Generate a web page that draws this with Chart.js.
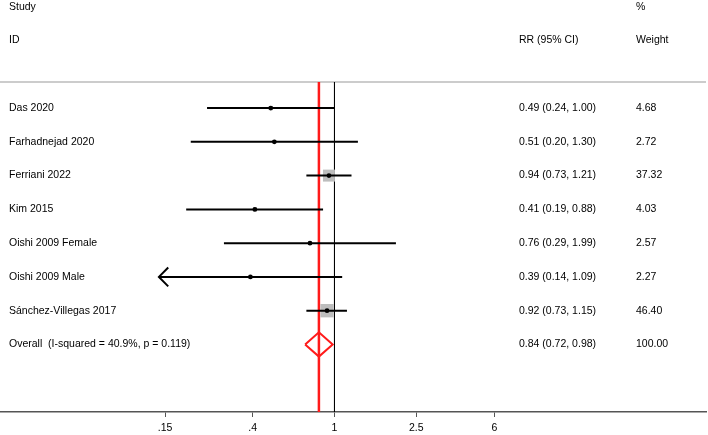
<!DOCTYPE html>
<html>
<head>
<meta charset="utf-8">
<script src="https://cdn.jsdelivr.net/npm/chart.js@4/dist/chart.umd.min.js"></script>
<style>
    body { margin: 0; background: #fff; }
</style>
</head>
<body>
<canvas id="forest" width="708" height="435"></canvas>
<script>
"use strict";

/**
 * Datos del forest plot
 */
const studies = [
    "Das 2020",
    "Farhadnejad 2020",
    "Ferriani 2022",
    "Kim 2015",
    "Oishi 2009 Female",
    "Oishi 2009 Male",
    "Sánchez-Villegas 2017",
];
const rr = [0.49, 0.51, 0.94, 0.41, 0.76, 0.39, 0.92];
const ciLow = [0.24, 0.2, 0.73, 0.19, 0.29, 0.14, 0.73];
const ciHigh = [1.0, 1.3, 1.21, 0.88, 1.99, 1.09, 1.15];
const weights = [4.68, 2.72, 37.32, 4.03, 2.57, 2.27, 46.4];

const overallLabel = "Overall  (I-squared = 40.9%, p = 0.119)";
const overallRR = 0.84;
const overallLow = 0.72;
const overallHigh = 0.98;
const overallWeight = 100.0;

const xTicks = [0.15, 0.4, 1, 2.5, 6];
const xTickLabels = [".15", ".4", "1", "2.5", "6"];

/**
 * Rango de los ejes
 */
const X_MIN = 0.02362;
const X_MAX = 64.1;
const Y_TOP = -3.2;
const Y_BOTTOM = 9.0;
const Y_RULE = -0.77;
const overallRow = studies.length;

const FONT = "Arial, 'Liberation Sans', sans-serif";
const RED = "#ff1a1a";

const canvas = document.querySelector("#forest");

/**
 * Lineas de intervalo de confianza
 */
const ciSets = studies.map((name, i) => ({
    label: name,
    data: [
        { x: ciLow[i], y: i },
        { x: ciHigh[i], y: i },
    ],
    showLine: true,
    borderColor: "#000",
    borderWidth: 2,
    pointRadius: 0,
    order: 2,
}));

// flecha para intervalos que salen del rango de las marcas
const arrowSets = [];
studies.forEach((name, i) => {
    if (ciLow[i] < xTicks[0]) {
        arrowSets.push({
            label: name + " arrow",
            data: [
                { x: ciLow[i] * 1.11, y: i - 0.28 },
                { x: ciLow[i], y: i },
                { x: ciLow[i] * 1.11, y: i + 0.28 },
            ],
            showLine: true,
            borderColor: "#000",
            borderWidth: 2,
            pointRadius: 0,
            order: 2,
        });
    }
});

const datasets = [
    {
        label: "RR",
        data: rr.map((v, i) => ({ x: v, y: i })),
        backgroundColor: "#000",
        borderWidth: 0,
        pointRadius: 2.4,
        order: 0,
    },
    ...ciSets,
    ...arrowSets,
    {
        label: "Weight",
        data: rr.map((v, i) => ({ x: v, y: i })),
        pointStyle: "rect",
        backgroundColor: "#bdbdbd",
        borderWidth: 0,
        pointRadius: (ctx) => (Math.sqrt(weights[ctx.dataIndex]) * 1.96) / Math.SQRT2,
        order: 3,
    },
    {
        label: "Overall",
        data: [
            { x: overallLow, y: overallRow },
            { x: overallRR, y: overallRow - 0.36 },
            { x: overallHigh, y: overallRow },
            { x: overallRR, y: overallRow + 0.36 },
            { x: overallLow, y: overallRow },
        ],
        showLine: true,
        borderColor: RED,
        borderWidth: 2,
        pointRadius: 0,
        order: 1,
    },
    {
        label: "Overall line",
        data: [
            { x: overallRR, y: Y_RULE },
            { x: overallRR, y: Y_BOTTOM },
        ],
        showLine: true,
        borderColor: RED,
        borderWidth: 2.5,
        pointRadius: 0,
        order: 4,
    },
    {
        label: "Null line",
        data: [
            { x: 1, y: Y_RULE },
            { x: 1, y: Y_BOTTOM },
        ],
        showLine: true,
        borderColor: "#000",
        borderWidth: 1,
        pointRadius: 0,
        order: 5,
    },
    {
        label: "Rule",
        data: [
            { x: X_MIN, y: Y_RULE },
            { x: X_MAX, y: Y_RULE },
        ],
        showLine: true,
        borderColor: "#cccccc",
        borderWidth: 2,
        pointRadius: 0,
        order: 6,
    },
];

/**
 * Textos de la tabla
 */
const fmt = (v) => v.toFixed(2);
const tablaTextos = {
    id: "tablaTextos",
    afterDatasetsDraw(chart) {
        const { ctx, scales } = chart;
        const y = scales.y;
        const colStudy = 9;
        const colRR = 519;
        const colW = 636;

        ctx.save();
        ctx.fillStyle = "#000";
        ctx.font = "10.5px " + FONT;
        ctx.textAlign = "left";
        ctx.textBaseline = "middle";

        ctx.fillText("Study", colStudy, y.getPixelForValue(-3));
        ctx.fillText("ID", colStudy, y.getPixelForValue(-2));
        ctx.fillText("RR (95% CI)", colRR, y.getPixelForValue(-2));
        ctx.fillText("%", colW, y.getPixelForValue(-3));
        ctx.fillText("Weight", colW, y.getPixelForValue(-2));

        studies.forEach((name, i) => {
            const py = y.getPixelForValue(i);
            ctx.fillText(name, colStudy, py);
            ctx.fillText(`${fmt(rr[i])} (${fmt(ciLow[i])}, ${fmt(ciHigh[i])})`, colRR, py);
            ctx.fillText(fmt(weights[i]), colW, py);
        });

        const po = y.getPixelForValue(overallRow);
        ctx.fillText(overallLabel, colStudy, po);
        ctx.fillText(`${fmt(overallRR)} (${fmt(overallLow)}, ${fmt(overallHigh)})`, colRR, po);
        ctx.fillText(fmt(overallWeight), colW, po);
        ctx.restore();
    },
};

new Chart(canvas, {
    type: "scatter",
    data: { datasets: datasets },
    options: {
        responsive: false,
        animation: false,
        layout: {
            autoPadding: false,
            padding: { left: 0, right: 2, top: 0, bottom: 0 },
        },
        plugins: {
            legend: { display: false },
            tooltip: { enabled: false },
        },
        scales: {
            x: {
                type: "logarithmic",
                min: X_MIN,
                max: X_MAX,
                afterBuildTicks: (scale) => {
                    scale.ticks = xTicks.map((v) => ({ value: v }));
                },
                afterFit: (scale) => {
                    scale.height = 23;
                },
                ticks: {
                    autoSkip: false,
                    maxRotation: 0,
                    padding: 5,
                    color: "#000",
                    font: { size: 10.5, family: FONT },
                    callback: (value, index) => xTickLabels[index],
                },
                grid: {
                    drawOnChartArea: false,
                    drawTicks: true,
                    tickLength: 5,
                    color: "#555",
                    lineWidth: 1,
                },
                border: { display: true, color: "#555", width: 1.5 },
            },
            y: {
                type: "linear",
                display: false,
                reverse: true,
                min: Y_TOP,
                max: Y_BOTTOM,
            },
        },
    },
    plugins: [tablaTextos],
});
</script>
</body>
</html>
